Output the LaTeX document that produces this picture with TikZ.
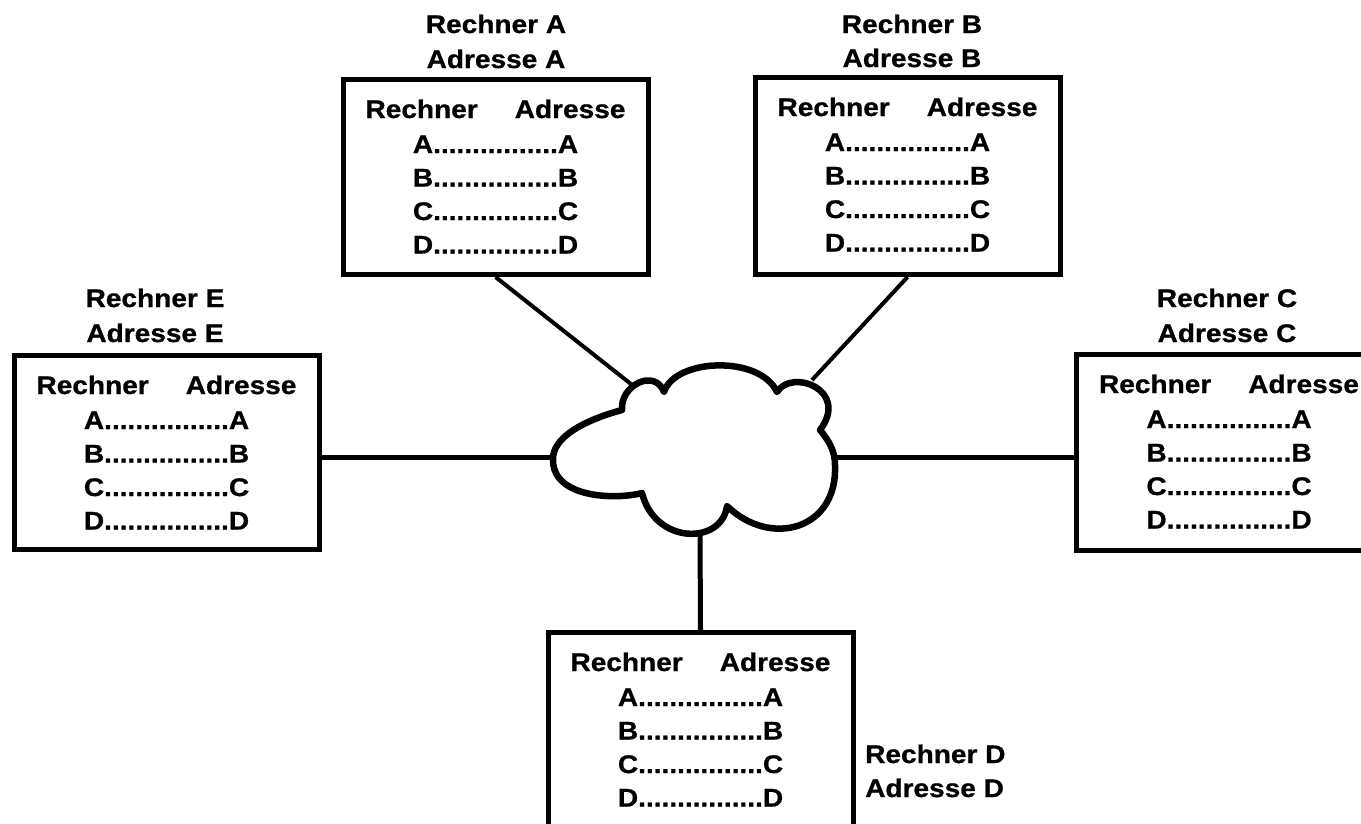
\documentclass[tikz,border=0pt]{standalone}
\usepackage{fontspec}
\newfontfamily\labelfont{Liberation Sans Bold}[FakeStretch=1.1, FakeBold=0.8]
\begin{document}
\begin{tikzpicture}[x=1pt,y=-1pt,
  lbl/.style={font=\fontsize{25.5}{30}\selectfont\labelfont, inner sep=0pt, anchor=base},
  tablebox/.style={draw, line width=5pt, minimum width=305pt, anchor=north, inner sep=0pt},
  link/.style={line width=5pt},
  diag/.style={line width=4pt},
  cloudline/.style={line width=6.5pt, fill=white, line join=round}]
\useasboundingbox (0,0) rectangle (1361,823);
\clip (0,0) rectangle (1361,823);

% address tables of the five hosts
\foreach \n/\cx/\top/\h in {A/495.5/77/195, B/907.5/75/197, E/166.5/353/194, C/1229/352/196, D/700.5/630/210} {
  \node[tablebox, minimum height=\h] (\n) at (\cx,\top) {};
  \node[lbl] (\n-head) at (\cx,\top+41) {Rechner\hspace{37pt}Adresse};
  \foreach \r [count=\i from 0] in {A,B,C,D}
    \node[lbl] (\n-row\r) at (\cx,\top+76+33.5*\i) {\r................\r};
}

% host names
\node[lbl] (tA1) at (496,33) {Rechner A};
\node[lbl] (tA2) at (496,68) {Adresse A};
\node[lbl] (tB1) at (912,33) {Rechner B};
\node[lbl] (tB2) at (912,67) {Adresse B};
\node[lbl] (tE1) at (155,307) {Rechner E};
\node[lbl] (tE2) at (155,342) {Adresse E};
\node[lbl] (tC1) at (1227,307) {Rechner C};
\node[lbl] (tC2) at (1227,342) {Adresse C};
\node[lbl, anchor=base west] (tD1) at (865,763) {Rechner D};
\node[lbl, anchor=base west] (tD2) at (865,797) {Adresse D};

% points where the links meet the network cloud
\coordinate (cA) at (636,388);
\coordinate (cB) at (812,380);
\coordinate (cE) at (556,457);
\coordinate (cC) at (832,457);
\coordinate (cD) at (700,530);

% links
\draw[diag] (A.south) -- (cA);
\draw[diag] (B.south) -- (cB);
\draw[link] (E.east |- cE) -- (cE);
\draw[link] (cC) -- (C.west |- cC);
\draw[link] (cD) -- (D.north);

% network cloud
\draw[cloudline] (642,493)
  .. controls (615,500) and (553,498) .. (553,460)
  .. controls (552,437) and (585,420) .. (622,410)
  .. controls (620,385) and (655,368) .. (664,392)
  .. controls (675,358) and (760,355) .. (777,392)
  .. controls (792,368) and (850,390) .. (820,430)
  .. controls (830,442) and (835,452) .. (835,465)
  .. controls (838,530) and (770,548) .. (727,506)
  .. controls (722,545) and (655,545) .. (642,493)
  -- cycle;
\end{tikzpicture}
\end{document}
